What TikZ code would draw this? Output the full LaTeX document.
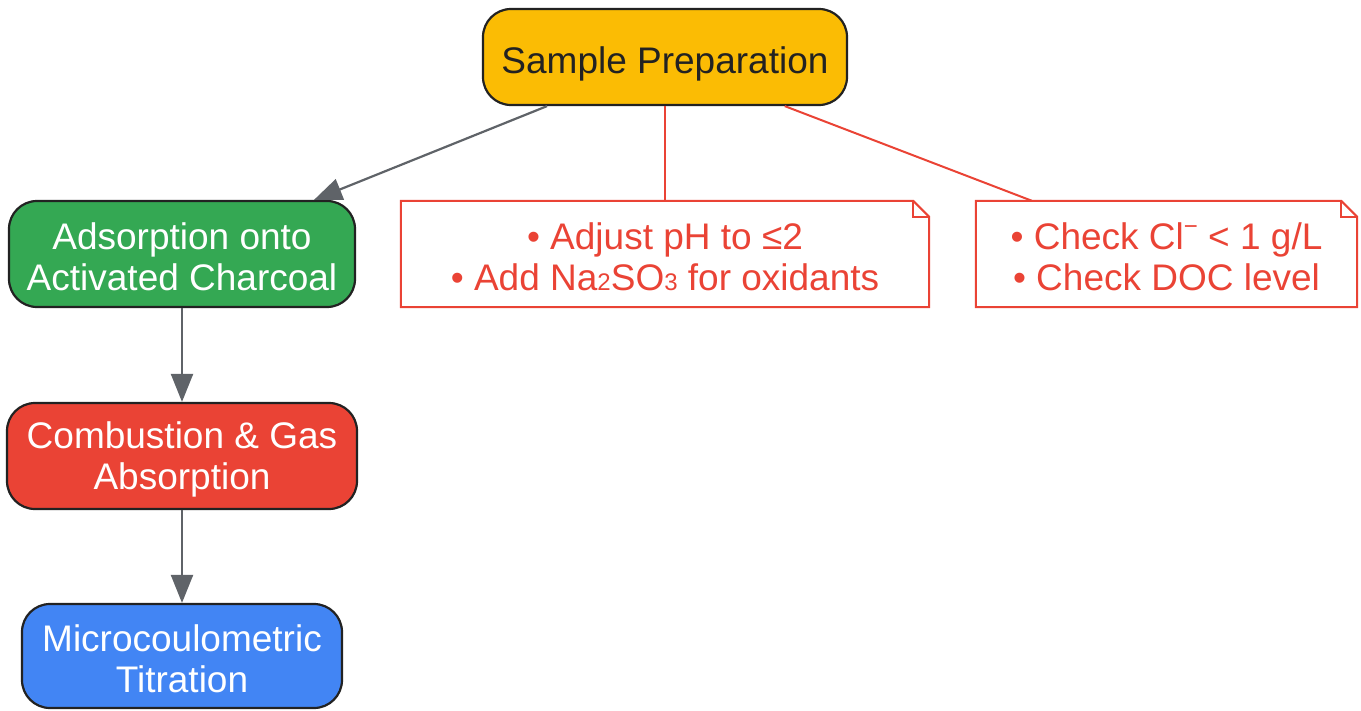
\documentclass[tikz,border=0pt]{standalone}
\usepackage{fontspec}
\setmainfont{Liberation Sans}
\usetikzlibrary{arrows.meta,calc}
\definecolor{cyellow}{HTML}{FBBC04}
\definecolor{cgreen}{HTML}{34A853}
\definecolor{cred}{HTML}{EA4335}
\definecolor{cblue}{HTML}{4285F4}
\definecolor{cborder}{HTML}{222222}
\definecolor{cdark}{HTML}{222222}
\definecolor{cgray}{HTML}{5F6368}
\newcommand{\smalldig}[1]{{\fontsize{24}{24}\selectfont #1}}
\newcommand{\supminus}{\raisebox{0.42em}{\fontsize{24}{24}\selectfont −}}
\newcommand{\topfill}[1]{\rule{0pt}{#1}}
\begin{document}
\begin{tikzpicture}[x=1pt,y=-1pt,
  proc/.style={rounded corners=28pt, draw=cborder, line width=2.2pt, align=center,
    inner sep=0pt, font=\fontsize{37}{41}\selectfont, text=white},
  notebox/.style={align=center, inner sep=0pt, font=\fontsize{37}{41}\selectfont, text=cred},
  notepath/.style={draw=cred, line width=2pt, line join=miter},
  flow/.style={draw=cgray, line width=2.2pt, -{Triangle[length=28pt,width=22pt]}},
  link/.style={draw=cred, line width=2pt}]
\useasboundingbox (0,0) rectangle (1361,710);

\node[proc, fill=cyellow, text=cdark, minimum width=364pt, minimum height=96pt] (sp) at (665,57) {\topfill{41pt}Sample Preparation};
\node[proc, fill=cgreen, minimum width=346pt, minimum height=106pt] (ad) at (182,254) {\topfill{33pt}Adsorption onto\\Activated Charcoal};
\node[proc, fill=cred, minimum width=350pt, minimum height=106pt] (co) at (182,456) {\topfill{33pt}Combustion \& Gas\\Absorption};
\node[proc, fill=cblue, minimum width=320pt, minimum height=104pt] (mi) at (182,656) {\topfill{33pt}Microcoulometric\\Titration};

\node[notebox, minimum width=528pt, minimum height=106pt] (n1) at (665,254) {\topfill{33pt}• Adjust pH to ≤2\\• Add Na\smalldig{2}SO\smalldig{3} for oxidants};
\node[notebox, minimum width=381pt, minimum height=106pt] (n2) at (1166.5,254) {\topfill{33pt}• Check Cl\supminus{} < 1 g/L\\• Check DOC level};

\foreach \n in {n1,n2}{
  \draw[notepath] (\n.north west) -- ($(\n.north east)+(-16,0)$) -- ($(\n.north east)+(0,16)$) -- (\n.south east) -- (\n.south west) -- cycle;
  \draw[notepath] ($(\n.north east)+(-16,0)$) -- ($(\n.north east)+(-16,16)$) -- ($(\n.north east)+(0,16)$);
}

\draw[flow] ($(sp.south west)!0.178!(sp.south east)$) -- ($(ad.north west)!0.879!(ad.north east)$);
\draw[flow] (ad.south) -- (co.north);
\draw[flow] (co.south) -- (mi.north);

\draw[link] (sp.south) -- (n1.north);
\draw[link] ($(sp.south west)!0.827!(sp.south east)$) -- ($(n2.north west)!0.147!(n2.north east)$);
\end{tikzpicture}
\end{document}
